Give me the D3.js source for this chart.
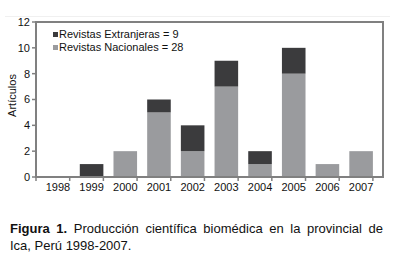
<!DOCTYPE html>
<html>
<head>
<meta charset="utf-8">
<script src="https://cdn.jsdelivr.net/npm/d3@7"></script>
<style>
  body { margin: 0; background: #fff; }
  #chart { position: relative; width: 396px; height: 262px; }
  .caption { position: absolute; left: 10px; top: 220px; width: 373px; font-family: "Liberation Sans", Arial, sans-serif; font-size: 13px; line-height: 17px; text-align: justify; color: #111; }
</style>
</head>
<body>
<div id="chart"></div>
<script>
var years = ["1998", "1999", "2000", "2001", "2002", "2003", "2004", "2005", "2006", "2007"];
var nacionales = [0, 0, 2, 5, 2, 7, 1, 8, 1, 2];
var extranjeras = [0, 1, 0, 1, 2, 2, 1, 2, 0, 0];
var yTicks = [0, 2, 4, 6, 8, 10, 12];
var legendLabels = ["Revistas Extranjeras = 9", "Revistas Nacionales = 28"];

function drawChart() {
    var container = d3.select("#chart");
    var margin = {top: 22, right: 13, bottom: 85, left: 36};
    var width = 396 - margin.left - margin.right;
    var height = 262 - margin.top - margin.bottom;

    var svg = container.append("svg")
        .attr("width", 396)
        .attr("height", 262);

    svg.append("line")
        .attr("x1", 5).attr("x2", 390)
        .attr("y1", 16.5).attr("y2", 16.5)
        .attr("stroke", "#f0f0f0");

    var g = svg.append("g")
        .attr("transform", "translate(" + margin.left + "," + margin.top + ")");

    var x = d3.scaleBand().domain(years).range([0, width]).padding(0.3);
    var y = d3.scaleLinear().domain([0, 12]).range([height, 0]);

    var data = years.map(function(d, i) {
        return {year: d, nac: nacionales[i], ext: extranjeras[i]};
    });

    // bars: nacionales bottom, extranjeras on top
    g.selectAll(".nac").data(data).enter().append("rect")
        .attr("x", function(d) { return x(d.year); })
        .attr("width", x.bandwidth())
        .attr("y", function(d) { return y(d.nac); })
        .attr("height", function(d) { return y(0) - y(d.nac); })
        .attr("fill", "#9a9b9e");

    g.selectAll(".ext").data(data).enter().append("rect")
        .attr("x", function(d) { return x(d.year); })
        .attr("width", x.bandwidth())
        .attr("y", function(d) { return y(d.nac + d.ext); })
        .attr("height", function(d) { return y(d.nac) - y(d.nac + d.ext); })
        .attr("fill", "#3b3b3d");

    // frame
    g.append("rect")
        .attr("x", 0).attr("y", 0)
        .attr("width", width).attr("height", height)
        .attr("fill", "none")
        .attr("stroke", "#808080")
        .attr("stroke-width", 2);

    // y axis ticks
    g.selectAll(".ytick").data(yTicks).enter().append("line")
        .attr("x1", -4).attr("x2", 0)
        .attr("y1", function(d) { return y(d); })
        .attr("y2", function(d) { return y(d); })
        .attr("stroke", "#808080")
        .attr("stroke-width", 1.5);

    g.selectAll(".ylab").data(yTicks).enter().append("text")
        .attr("x", -6)
        .attr("y", function(d) { return y(d); })
        .attr("dy", "0.35em")
        .attr("text-anchor", "end")
        .style("font-family", "Liberation Sans, Arial, sans-serif")
        .style("font-size", "11px")
        .style("fill", "#111")
        .text(function(d) { return d; });

    // x axis ticks at band boundaries
    var step = x.step();
    g.selectAll(".xtick").data(d3.range(years.length + 1)).enter().append("line")
        .attr("x1", function(i) { return i * step; })
        .attr("x2", function(i) { return i * step; })
        .attr("y1", height).attr("y2", height + 4)
        .attr("stroke", "#808080")
        .attr("stroke-width", 1.5);

    g.selectAll(".xlab").data(years).enter().append("text")
        .attr("x", function(d) { return x(d) + x.bandwidth() / 2; })
        .attr("y", height + 14)
        .attr("text-anchor", "middle")
        .style("font-family", "Liberation Sans, Arial, sans-serif")
        .style("font-size", "11px")
        .style("fill", "#111")
        .text(function(d) { return d; });

    // y axis title
    svg.append("text")
        .attr("transform", "translate(16," + (margin.top + height / 2 - 4) + ") rotate(-90)")
        .attr("text-anchor", "middle")
        .style("font-family", "Liberation Sans, Arial, sans-serif")
        .style("font-size", "11px")
        .style("fill", "#111")
        .text("Artículos");

    // legend
    var legendColors = ["#3b3b3d", "#9a9b9e"];
    var legend = g.selectAll(".legend").data(legendLabels).enter().append("g")
        .attr("transform", function(d, i) { return "translate(17," + (16 + i * 13) + ")"; });

    legend.append("rect")
        .attr("x", 0).attr("y", -6)
        .attr("width", 5).attr("height", 5)
        .attr("fill", function(d, i) { return legendColors[i]; });

    legend.append("text")
        .attr("x", 6).attr("y", 0)
        .style("font-family", "Liberation Sans, Arial, sans-serif")
        .style("font-size", "11px")
        .style("fill", "#111")
        .text(function(d) { return d; });

    container.append("div")
        .attr("class", "caption")
        .html("<b>Figura 1.</b> Producción científica biomédica en la provincial de Ica, Perú 1998-2007.");
}

drawChart();
</script>
</body>
</html>
